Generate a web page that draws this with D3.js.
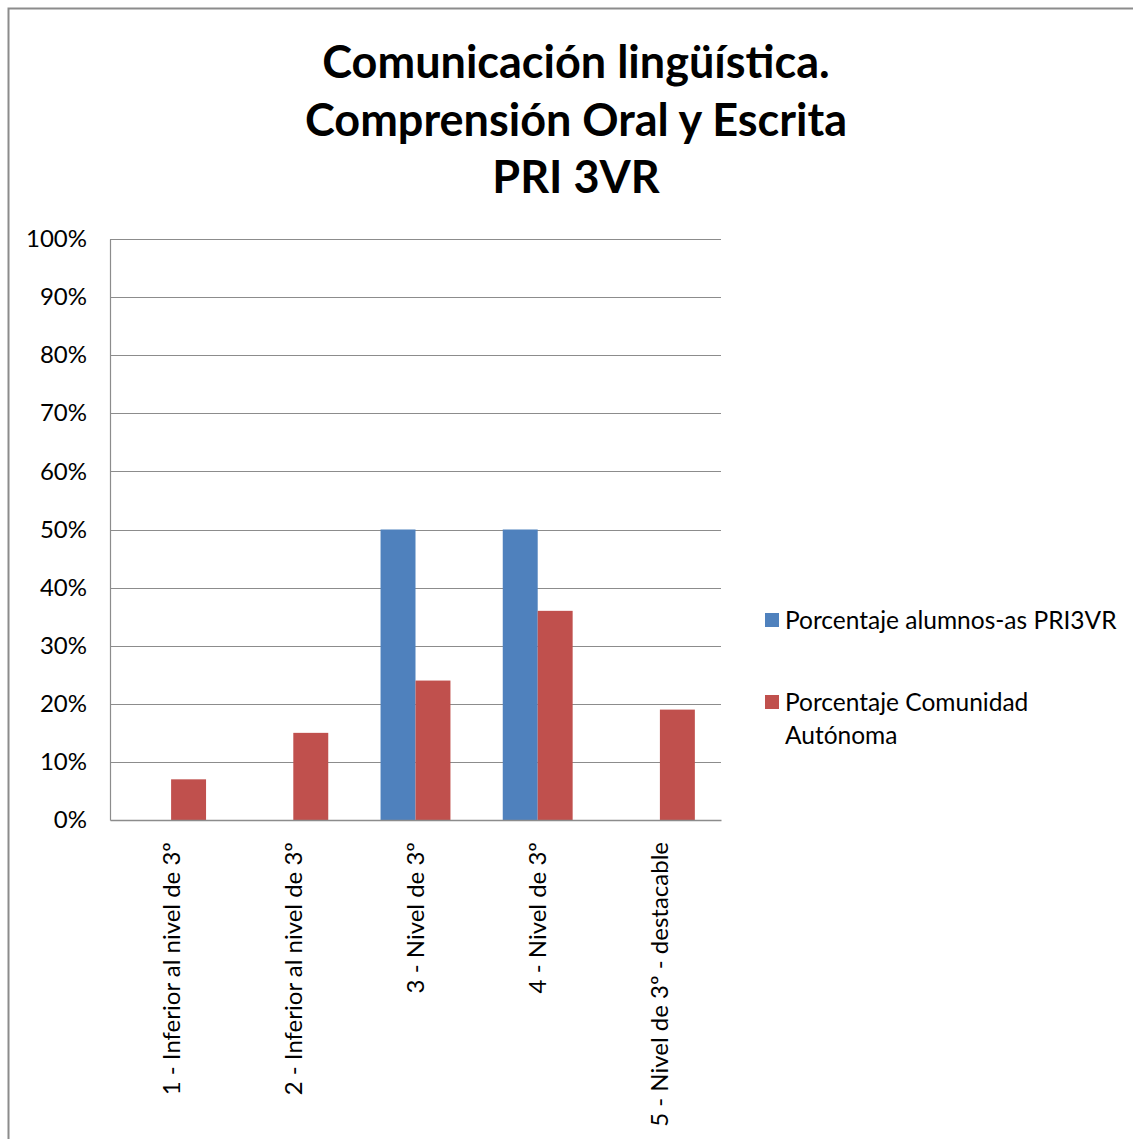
<!DOCTYPE html>
<html>
<head>
<meta charset="utf-8">
<script src="https://cdn.jsdelivr.net/npm/d3@7"></script>
<style>
  body { margin: 0; background: #fff; }
  svg text { font-family: Lato, "Open Sans", sans-serif; fill: #000; }
</style>
</head>
<body>
<svg id="chart" width="1133" height="1139"></svg>
<script>
// chart data
var categories = [
    "1 - Inferior al nivel de 3º",
    "2 - Inferior al nivel de 3º",
    "3 - Nivel de 3º",
    "4 - Nivel de 3º",
    "5 - Nivel de 3º - destacable"
]
var alumnos = [0, 0, 50, 50, 0]
var comunidad = [7, 15, 24, 36, 19]
var seriesNames = ["Porcentaje alumnos-as PRI3VR", "Porcentaje Comunidad Autónoma"]
var seriesColors = ["#4f81bd", "#c0504d"]
var yTicks = [0, 10, 20, 30, 40, 50, 60, 70, 80, 90, 100]
var titleLines = ["Comunicación lingüística.", "Comprensión Oral y Escrita", "PRI 3VR"]

var svg = d3.select("#chart"),
    margin = { top: 239, left: 110 },
    width = 611,
    height = 581,
    g = svg.append("g").attr("transform", "translate(" + margin.left + "," + margin.top + ")")

// outer frame
svg.append("rect")
    .attr("x", 8.5).attr("y", 8.5)
    .attr("width", 1140).attr("height", 1140)
    .attr("fill", "none")
    .attr("stroke", "#8c8c8c")
    .attr("stroke-width", 2)

// title
svg.append("g").selectAll("text")
    .data(titleLines)
    .enter().append("text")
    .attr("x", 576)
    .attr("y", function (d, i) { return 78 + i * 57.5 })
    .attr("text-anchor", "middle")
    .attr("font-size", 45)
    .attr("font-weight", "bold")
    .text(function (d) { return d })

var x = d3.scaleBand()
    .domain(categories)
    .range([0, width])
    .paddingInner(0)

var y = d3.scaleLinear()
    .domain([0, 100])
    .range([height, 0])

var inner = d3.scaleBand()
    .domain([0, 1])
    .range([x.bandwidth() * 0.214, x.bandwidth() * 0.786])

// gridlines
g.append("g")
    .selectAll("line")
    .data(yTicks.slice(1))
    .enter().append("line")
    .attr("x1", 0).attr("x2", width)
    .attr("y1", function (d) { return Math.round(y(d)) + 0.5 })
    .attr("y2", function (d) { return Math.round(y(d)) + 0.5 })
    .attr("stroke", "#8c8c8c")
    .attr("stroke-width", 1.2)

// bars
var seriesData = [alumnos, comunidad]
seriesData.forEach(function (vals, s) {
    g.append("g")
        .selectAll("rect")
        .data(vals)
        .enter().append("rect")
        .attr("x", function (d, i) { return x(categories[i]) + inner(s) })
        .attr("y", function (d) { return y(d) })
        .attr("width", inner.bandwidth())
        .attr("height", function (d) { return height - y(d) })
        .attr("fill", seriesColors[s])
})

// y axis, no tick marks
var yAxis = g.append("g")
    .call(d3.axisLeft(y).tickValues(yTicks).tickSize(0).tickSizeOuter(0).tickFormat(function (d) { return d + "%" }))
yAxis.select(".domain").attr("stroke", "#8c8c8c").attr("stroke-width", 1.2)
yAxis.selectAll(".tick text")
    .attr("x", -23)
    .attr("font-size", 24)
    .attr("font-family", "Lato, sans-serif")
    .attr("fill", "#000")

// x axis
var xAxis = g.append("g")
    .attr("transform", "translate(0," + height + ")")
    .call(d3.axisBottom(x).tickSize(0))
xAxis.select(".domain").attr("stroke", "#8c8c8c").attr("stroke-width", 1.5)
xAxis.selectAll(".tick text")
    .attr("transform", "rotate(-90)")
    .attr("x", -22)
    .attr("y", 0)
    .attr("dy", "0.35em")
    .attr("text-anchor", "end")
    .attr("font-size", 24)
    .attr("font-family", "Lato, sans-serif")
    .attr("fill", "#000")

// legend
var legend = svg.append("g").attr("transform", "translate(765,0)")
var legendY = [620, 702]
seriesNames.forEach(function (name, i) {
    legend.append("rect")
        .attr("x", 0).attr("y", legendY[i] - 7)
        .attr("width", 14).attr("height", 14)
        .attr("fill", seriesColors[i])
    var words = i === 1 ? ["Porcentaje Comunidad", "Autónoma"] : [name]
    words.forEach(function (line, j) {
        legend.append("text")
            .attr("x", 20)
            .attr("y", legendY[i] + j * 33)
            .attr("dy", "0.35em")
            .attr("font-size", 24.5)
            .attr("fill", "#262626")
            .text(line)
    })
})
</script>
</body>
</html>
